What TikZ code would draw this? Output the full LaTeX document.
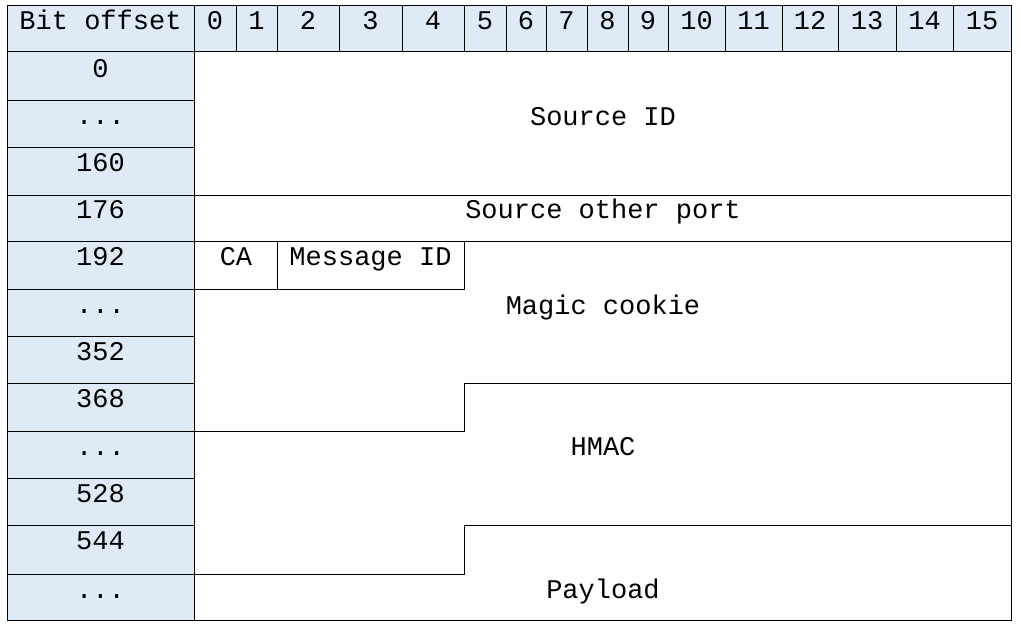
\documentclass[tikz,border=0pt]{standalone}
\usepackage{fontspec}
\setmonofont{Liberation Mono}
\definecolor{hdrblue}{RGB}{222,234,246}
\begin{document}
\begin{tikzpicture}[x=0.75pt,y=-0.75pt,
  grid/.style={draw=black,line width=0.75pt},
  lbl/.style={anchor=base,inner sep=0pt,font=\ttfamily\fontsize{20.25}{24}\selectfont}]
\useasboundingbox (0,0) rectangle (1021,630);
% fills
\fill[hdrblue] (7,6) rectangle (1011,52);
\fill[hdrblue] (7,52) rectangle (194,620);
% outer border
\draw[grid] (7,6) rectangle (1011,620);
% header column lines
\foreach \x in {194,236,277,339,402,464,506,546,587,628,668,725,782,838,896,953}
  \draw[grid] (\x,6) -- (\x,52);
\draw[grid] (7,52) -- (1011,52);
\draw[grid] (194,52) -- (194,620);
% left column row lines
\foreach \y in {101,148,196,242,290,337,384,432,479,526,574}
  \draw[grid] (7,\y) -- (194,\y);
% data area lines
\draw[grid] (194,196) -- (1011,196);
\draw[grid] (194,242) -- (1011,242);
\draw[grid] (194,290) -- (464,290);
\draw[grid] (277,242) -- (277,290);
\draw[grid] (464,242) -- (464,290);
\draw[grid] (1011,384) -- (464,384) -- (464,432) -- (194,432);
\draw[grid] (1011,526) -- (464,526) -- (464,574) -- (194,574);
% header labels
\node[lbl] (hbit) at (100.5,30) {Bit offset};
\node[lbl] (h0) at (215,30) {0};
\node[lbl] (h1) at (256.5,30) {1};
\node[lbl] (h2) at (308,30) {2};
\node[lbl] (h3) at (370.5,30) {3};
\node[lbl] (h4) at (433,30) {4};
\node[lbl] (h5) at (485,30) {5};
\node[lbl] (h6) at (526,30) {6};
\node[lbl] (h7) at (566.5,30) {7};
\node[lbl] (h8) at (607.5,30) {8};
\node[lbl] (h9) at (648,30) {9};
\node[lbl] (h10) at (696.5,30) {10};
\node[lbl] (h11) at (753.5,30) {11};
\node[lbl] (h12) at (810,30) {12};
\node[lbl] (h13) at (867,30) {13};
\node[lbl] (h14) at (924.5,30) {14};
\node[lbl] (h15) at (982,30) {15};
% row labels
\node[lbl] (r0) at (100.5,78) {0};
\node[lbl] (r1) at (100.5,125) {...};
\node[lbl] (r2) at (100.5,172) {160};
\node[lbl] (r3) at (100.5,219) {176};
\node[lbl] (r4) at (100.5,266) {192};
\node[lbl] (r5) at (100.5,314) {...};
\node[lbl] (r6) at (100.5,361) {352};
\node[lbl] (r7) at (100.5,408) {368};
\node[lbl] (r8) at (100.5,456) {...};
\node[lbl] (r9) at (100.5,503) {528};
\node[lbl] (r10) at (100.5,550) {544};
\node[lbl] (r11) at (100.5,598) {...};
% field labels
\node[lbl] (srcid) at (603,126) {Source ID};
\node[lbl] (srcport) at (603,219) {Source other port};
\node[lbl] (ca) at (236,266) {CA};
\node[lbl] (msgid) at (370.5,266) {Message ID};
\node[lbl] (magic) at (603,315) {Magic cookie};
\node[lbl] (hmac) at (603,456) {HMAC};
\node[lbl] (payload) at (603,598) {Payload};
\end{tikzpicture}
\end{document}
